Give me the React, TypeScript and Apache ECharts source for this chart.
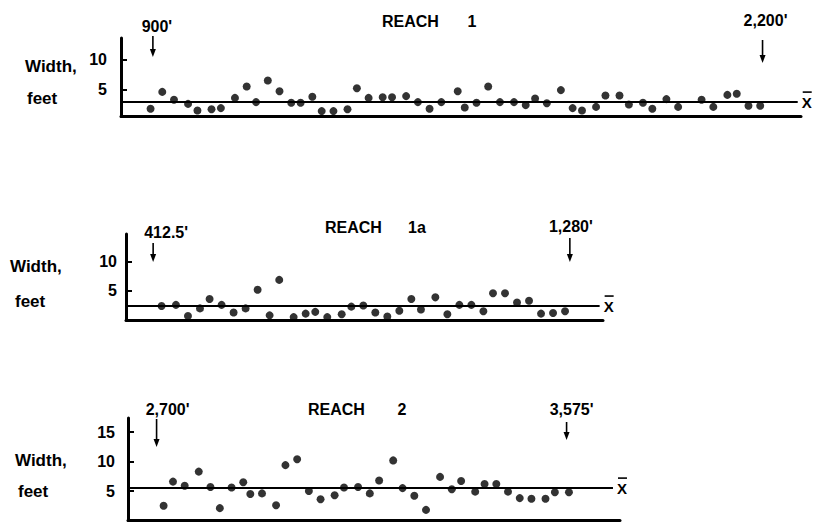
import React, { useEffect, useRef } from "react";
import * as echarts from "echarts";

// ---- Data (distance along reach in feet, channel width in feet) ----
const reach1Feet = [895, 920, 945, 975, 995, 1025, 1045, 1075, 1100, 1120, 1145, 1170, 1195, 1215, 1240, 1260, 1285, 1315, 1335, 1360, 1390, 1410, 1440, 1465, 1490, 1515, 1550, 1565, 1590, 1615, 1640, 1670, 1695, 1715, 1740, 1770, 1795, 1815, 1845, 1865, 1895, 1915, 1945, 1965, 1995, 2020, 2070, 2095, 2125, 2145, 2170, 2195];
const reach1Width = [1.8, 4.6, 3.3, 2.6, 1.5, 1.7, 1.9, 3.6, 5.5, 2.9, 6.5, 4.7, 2.8, 2.8, 3.8, 1.4, 1.4, 1.7, 5.2, 3.6, 3.7, 3.7, 3.9, 2.9, 1.8, 2.9, 4.7, 2.0, 2.8, 5.5, 2.9, 2.9, 2.4, 3.5, 2.7, 4.9, 1.9, 1.5, 2.1, 4.0, 4.0, 2.5, 2.8, 1.8, 3.4, 2.1, 3.3, 2.1, 4.1, 4.3, 2.3, 2.3];
const reach1Mean = 2.9;
const reach1Marks = [900, 2200];
const reach1MarkLabels = ["900'", "2,200'"];

const reach1aFeet = [430, 460, 485, 510, 530, 555, 580, 605, 630, 655, 675, 705, 730, 750, 775, 805, 825, 850, 875, 900, 925, 950, 970, 1000, 1025, 1050, 1075, 1100, 1120, 1145, 1170, 1195, 1220, 1245, 1270];
const reach1aWidth = [2.4, 2.6, 0.7, 2.0, 3.6, 2.6, 1.3, 2.0, 5.2, 0.8, 6.9, 0.5, 1.1, 1.4, 0.5, 1.0, 2.3, 2.5, 1.3, 0.6, 1.6, 3.6, 1.8, 3.9, 1.0, 2.6, 2.6, 1.5, 4.6, 4.6, 3.0, 3.3, 1.1, 1.2, 1.5];
const reach1aMean = 2.4;
const reach1aMarks = [412.5, 1280];
const reach1aMarkLabels = ["412.5'", "1,280'"];

const reach2Feet = [2715, 2735, 2760, 2790, 2815, 2835, 2860, 2885, 2900, 2925, 2955, 2975, 3000, 3025, 3050, 3080, 3100, 3130, 3155, 3175, 3205, 3225, 3250, 3275, 3305, 3330, 3350, 3380, 3400, 3425, 3450, 3475, 3500, 3530, 3550, 3580];
const reach2Width = [2.5, 6.6, 5.9, 8.3, 5.7, 2.1, 5.6, 6.5, 4.5, 4.6, 2.6, 9.4, 10.4, 5.0, 3.6, 4.3, 5.6, 5.7, 4.6, 6.8, 10.2, 5.5, 4.2, 1.8, 7.4, 5.3, 6.7, 4.9, 6.2, 6.2, 4.9, 3.8, 3.7, 3.7, 4.8, 4.8];
const reach2Mean = 5.5;
const reach2Marks = [2700, 3575];
const reach2MarkLabels = ["2,700'", "3,575'"];

const reach1Ticks = [5, 10];
const reach1aTicks = [5, 10];
const reach2Ticks = [5, 10, 15];

const titleWord = "REACH";
const reachNames = ["1", "1a", "2"];
const yTitle1 = "Width,";
const yTitle2 = "feet";
const meanLabel = "X";

const FONT = "'Liberation Sans', Arial, sans-serif";

// ---- Layout (pixels) ----
const panels = [
  {
    feet: reach1Feet, width: reach1Width, mean: reach1Mean, marks: reach1Marks, markLabels: reach1MarkLabels, ticks: reach1Ticks,
    grid: { left: 121, top: 38, width: 680, height: 78.5 },
    x: [832, 2282], y: [0.5, 13.58], meanEnd: 2275, labelMargin: 14,
    arrows: [[36, 57], [40, 63]], labelY: [26, 20], labelDx: [4, 3],
    titleX: 382, titleY: 21, nameX: 472,
    wTitle: [25, 66], fTitle: [27, 98],
  },
  {
    feet: reach1aFeet, width: reach1aWidth, mean: reach1aMean, marks: reach1aMarks, markLabels: reach1aMarkLabels, ticks: reach1aTicks,
    grid: { left: 126, top: 234, width: 477, height: 86 },
    x: [356, 1349], y: [0, 14.8], meanEnd: 1342, labelMargin: 9,
    arrows: [[243, 262], [238, 262]], labelY: [232, 226], labelDx: [13, 1],
    titleX: 325, titleY: 227, nameX: 417,
    wTitle: [10, 266], fTitle: [15, 301],
  },
  {
    feet: reach2Feet, width: reach2Width, mean: reach2Mean, marks: reach2Marks, markLabels: reach2MarkLabels, ticks: reach2Ticks,
    grid: { left: 128, top: 418, width: 492, height: 102.5 },
    x: [2639, 3689], y: [0, 17.4], meanEnd: 3674, labelMargin: 13,
    arrows: [[419, 447], [422, 440]], labelY: [409, 409], labelDx: [11, 5],
    titleX: 308, titleY: 409, nameX: 402,
    wTitle: [15, 460], fTitle: [18, 491],
  },
];

export default function App() {
  const ref = useRef<HTMLDivElement>(null);
  useEffect(() => {
    if (!ref.current) return;
    const chart = echarts.init(ref.current, null, { renderer: "svg" });
    const option: any = {
      animation: false,
      backgroundColor: "#ffffff",
      grid: panels.map((p) => ({ ...p.grid, containLabel: false })),
      xAxis: panels.map((p, i) => ({
        type: "value", gridIndex: i, min: p.x[0], max: p.x[1],
        axisLine: { show: true, onZero: false, lineStyle: { color: "#000", width: 3 } },
        axisTick: { show: false }, axisLabel: { show: false }, splitLine: { show: false },
      })),
      yAxis: panels.map((p, i) => ({
        type: "value", gridIndex: i, min: p.y[0], max: p.y[1],
        axisLine: { show: true, onZero: false, lineStyle: { color: "#000", width: 3 } },
        axisTick: { show: true, inside: true, length: 6, customValues: p.ticks, lineStyle: { color: "#000", width: 2 } },
        axisLabel: { show: true, customValues: p.ticks, margin: p.labelMargin, color: "#000", fontSize: 16, fontWeight: "bold", fontFamily: FONT },
        splitLine: { show: false },
      })),
      series: panels.map((p, i) => ({
        type: "scatter", xAxisIndex: i, yAxisIndex: i,
        symbol: "circle", symbolSize: 8,
        itemStyle: { color: "#000" },
        data: p.feet.map((f, k) => [f, p.width[k]]),
        markLine: {
          silent: true, symbol: ["none", "none"], label: { show: false },
          lineStyle: { color: "#000", width: 2, type: "solid" },
          data: [[{ coord: [p.x[0], p.mean] }, { coord: [p.meanEnd, p.mean] }]],
        },
      })),
    };
    chart.setOption(option);

    const g: any[] = [];
    const txt = (text: string, x: number, y: number, size: number, align = "center") => ({
      type: "text", x, y,
      style: { text, fill: "#000", font: `bold ${size}px ${FONT}`, align, verticalAlign: "middle" },
    });
    panels.forEach((p, i) => {
      const finder: any = { xAxisIndex: i, yAxisIndex: i };
      p.marks.forEach((f, j) => {
        const px = (chart.convertToPixel(finder, [f, p.y[0]]) as number[])[0];
        const [y1, y2] = p.arrows[j];
        g.push({ type: "line", shape: { x1: px, y1, x2: px, y2: y2 - 4 }, style: { stroke: "#000", lineWidth: 1.6 } });
        g.push({ type: "polygon", shape: { points: [[px - 3, y2 - 8], [px + 3, y2 - 8], [px, y2]] }, style: { fill: "#000" } });
        g.push(txt(p.markLabels[j], px + p.labelDx[j], p.labelY[j], 16));
      });
      const mp = chart.convertToPixel(finder, [p.meanEnd, p.mean]) as number[];
      g.push(txt(meanLabel, mp[0] + 9, mp[1], 15));
      g.push({ type: "line", shape: { x1: mp[0] + 5, y1: mp[1] - 10, x2: mp[0] + 14, y2: mp[1] - 10 }, style: { stroke: "#000", lineWidth: 1.6 } });
      g.push(txt(titleWord, p.titleX, p.titleY, 16, "left"));
      g.push(txt(reachNames[i], p.nameX, p.titleY, 16));
      g.push(txt(yTitle1, p.wTitle[0], p.wTitle[1], 17, "left"));
      g.push(txt(yTitle2, p.fTitle[0], p.fTitle[1], 17, "left"));
    });
    chart.setOption({ graphic: g });
    return () => chart.dispose();
  }, []);
  return <div ref={ref} style={{ position: "absolute", left: 0, top: 0, width: 814, height: 522 }} />;
}
